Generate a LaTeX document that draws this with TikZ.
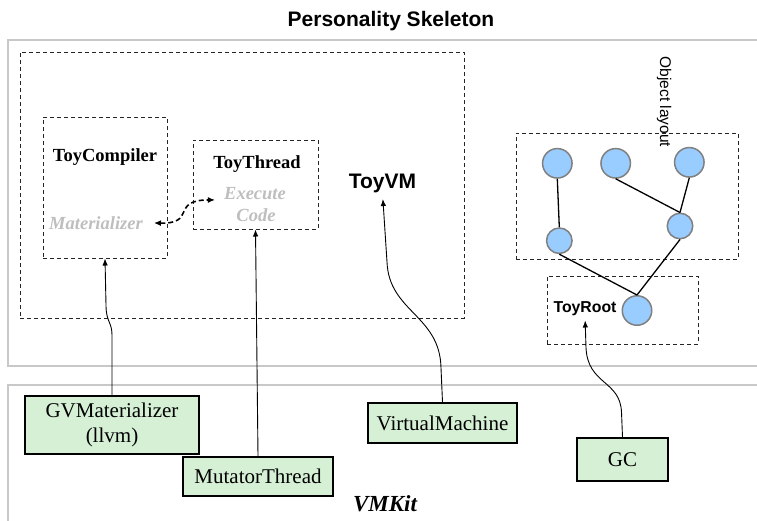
\documentclass[tikz,border=0pt]{standalone}
\usepackage{fontspec}
\setmainfont{Liberation Serif}
\newfontfamily\sansf{Liberation Sans}
\usetikzlibrary{arrows.meta,calc}

\definecolor{boxgreen}{RGB}{213,240,213}
\definecolor{ballblue}{RGB}{153,204,255}
\definecolor{ballrim}{RGB}{128,128,128}
\definecolor{panelgray}{RGB}{200,200,200}
\definecolor{softtext}{RGB}{190,190,190}

\tikzset{
  panel/.style={draw=panelgray, line width=2pt},
  dbox/.style={draw=black!85, line width=1pt, dash pattern=on 4pt off 3pt, inner sep=0pt},
  greenbox/.style={draw=black, line width=1.9pt, fill=boxgreen, inner sep=0pt,
    align=center, font=\fontsize{21}{24.5}\selectfont},
  ball/.style={circle, fill=ballblue, draw=ballrim, line width=1.5pt, inner sep=0pt},
  bigball/.style={ball, minimum size=29.5pt},
  smallball/.style={ball, minimum size=25.5pt},
  link/.style={black, line width=1.3pt},
  uses/.style={-{Latex[length=7pt,width=5.5pt]}, line width=0.9pt},
  serifb/.style={font=\fontsize{18.5}{21.5}\selectfont\bfseries, inner sep=0pt, anchor=base},
  softlabel/.style={font=\fontsize{18.5}{21.5}\selectfont\bfseries\itshape, text=softtext,
    inner sep=0pt, anchor=base},
}

\begin{document}
\begin{tikzpicture}[x=1pt,y=-1pt]
\useasboundingbox (0,0) rectangle (757,520);
\clip (0,0) rectangle (757,520);

% the two layers: personality (top) and VMKit (bottom), both open to the right
\draw[panel] (7.5,40) rectangle (780,366);
\draw[panel] (7.5,385) rectangle (780,540);

\node[font=\sansf\fontsize{21}{24}\selectfont\bfseries, anchor=base, inner sep=0pt]
  (title) at (391,26) {Personality Skeleton};

% ToyVM container and its components
\node[dbox, minimum width=444pt, minimum height=266pt] (vmbox) at (242,185) {};
\node[dbox, minimum width=124pt, minimum height=141pt] (tcbox) at (105,187.5) {};
\node[dbox, minimum width=125pt, minimum height=89pt] (ttbox) at (255.5,184.5) {};

\node[serifb] (tc) at (105,161) {ToyCompiler};
\node[softlabel] (mat) at (96,229) {Materializer};
\node[serifb] (tt) at (257,168) {ToyThread};
\node[softlabel] (exe) at (255,199.5) {Execute};
\node[softlabel] (code) at (256,221) {Code};
\node[font=\sansf\fontsize{21}{24}\selectfont\bfseries, anchor=base, inner sep=0pt]
  (toyvm) at (382.5,188.5) {ToyVM};

\draw[dashed, line width=1.6pt, dash pattern=on 5pt off 3pt,
      {Latex[length=7pt,width=6pt]}-{Latex[length=7pt,width=6pt]},
      shorten <=11pt, shorten >=9pt]
  (mat.east) .. controls (197,224) and (170,200) .. (exe.south west);

% object graph
\node[dbox, minimum width=222pt, minimum height=126pt] (objbox) at (627,196) {};
\node[font=\sansf\fontsize{15.5}{18}\selectfont, rotate=-90, inner sep=0pt]
  (objlabel) at (664,102) {Object layout};

\node[bigball] (c1) at (557.3,163.3) {};
\node[bigball] (c2) at (615.7,163.3) {};
\node[bigball] (c3) at (689.3,162.3) {};
\node[smallball] (c4) at (680,226) {};
\node[smallball] (c5) at (559.3,240.7) {};

\node[dbox, minimum width=151pt, minimum height=68pt] (rootbox) at (622.5,310) {};
\node[font=\sansf\fontsize{15.8}{18}\selectfont\bfseries, anchor=base, inner sep=0pt]
  (toyroot) at (585,312) {ToyRoot};
\node[bigball] (root) at (637,310.5) {};

\draw[link] (c1.south) -- (c5.north);
\draw[link] (c2.south) -- (c4.north);
\draw[link] (c3.south) -- (c4.north);
\draw[link] (c5.south) -- (root.north);
\draw[link] (c4.south) -- (root.north);

% VMKit classes
\node[greenbox, minimum width=174pt, minimum height=58pt] (gvm) at (112,425) {GVMaterializer\\(llvm)};
\node[greenbox, minimum width=150pt, minimum height=39pt] (mut) at (258,476.5) {MutatorThread};
\node[greenbox, minimum width=149pt, minimum height=40pt] (vm) at (442.5,423) {VirtualMachine};
\node[greenbox, minimum width=91pt, minimum height=43pt] (gc) at (622.5,459.5) {GC};

\node[font=\fontsize{23}{26}\selectfont\bfseries\itshape, anchor=base, inner sep=0pt]
  (vmkit) at (385,511.5) {VMKit};

% specialisation links
\draw[uses] (gvm.north) -- (112,335) .. controls (112,322) and (106,322) .. (106,305) -- (tcbox.south);
\draw[uses] (mut.north) -- (ttbox.south);
\draw[uses, shorten >=6pt] (vm.north) -- (441,368) .. controls (440,315) and (389,312) .. (387,262) -- (toyvm.south);
\draw[uses, shorten >=5pt] (gc.north) -- (621.5,412) .. controls (620,380) and (588,385) .. (586,348) -- (toyroot.south);
\end{tikzpicture}
\end{document}
